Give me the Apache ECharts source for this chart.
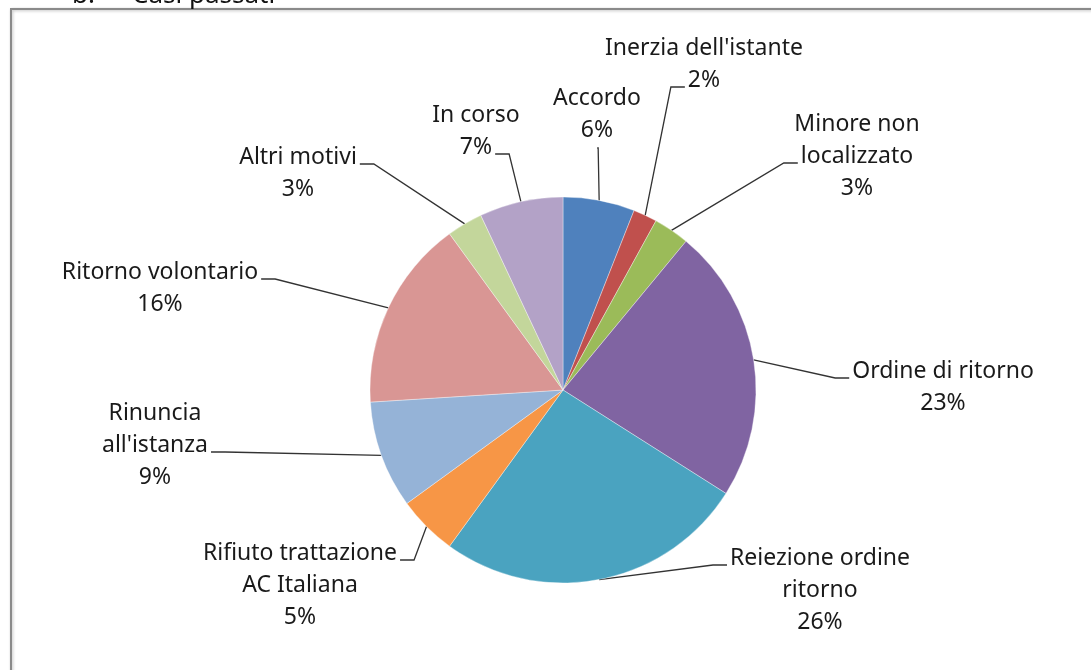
<!DOCTYPE html>
<html>
<head>
<meta charset="utf-8">
<script src="https://cdn.jsdelivr.net/npm/echarts@6/dist/echarts.min.js"></script>
<style>
html,body{margin:0;padding:0;background:#fff;}
#chart{width:1091px;height:670px;}
</style>
</head>
<body>
<div id="chart"></div>
<script>
// ---- data ----
const categories = ['Accordo', "Inerzia dell'istante", 'Minore non localizzato', 'Ordine di ritorno',
  'Reiezione ordine ritorno', 'Rifiuto trattazione AC Italiana', "Rinuncia all'istanza",
  'Ritorno volontario', 'Altri motivi', 'In corso'];
const values = [6, 2, 3, 23, 26, 5, 9, 16, 3, 7];
const labelText = ['Accordo', "Inerzia dell'istante", 'Minore non\nlocalizzato', 'Ordine di ritorno',
  'Reiezione ordine\nritorno', 'Rifiuto trattazione\nAC Italiana', "Rinuncia\nall'istanza",
  'Ritorno volontario', 'Altri motivi', 'In corso'];

// ---- style / layout ----
const colors = ['#4F81BD', '#C0504D', '#9BBB59', '#8064A2', '#4AA3C0', '#F79646',
  '#95B3D7', '#D99694', '#C3D69B', '#B3A2C7'];
const FONT_FAMILY = '"Noto Sans", "DejaVu Sans", sans-serif';
const FONT_SIZE = 23;
const LINE_H = 32;
// label block centre, line used for the leader, side of attachment
const labelBoxes = [
  [597, 114, 1, 'bottom'],
  [704, 64, 1, 'left'],
  [857, 156, 1, 'left'],
  [943, 387, 0, 'left'],
  [820, 590, 0, 'left'],
  [300, 585, 0, 'right'],
  [155, 445, 1, 'right'],
  [160, 288, 0, 'right'],
  [298, 173, 0, 'right'],
  [476, 131, 1, 'right']
];

const measureCtx = document.createElement('canvas').getContext('2d');
measureCtx.font = FONT_SIZE + 'px ' + FONT_FAMILY;

function fullLabel(i) {
  return labelText[i] + '\n' + values[i] + '%';
}

const chart = echarts.init(document.getElementById('chart'), null, {renderer: 'canvas'});
const total = values.reduce((a, b) => a + b, 0);

chart.setOption({
  animation: false,
  backgroundColor: '#ffffff',
  graphic: [
    {
      type: 'rect', z: -10, silent: true,
      shape: {x: 11, y: 9, width: 1200, height: 800},
      style: {fill: '#ffffff', stroke: '#8a8a8a', lineWidth: 2,
        shadowBlur: 3, shadowColor: 'rgba(0,0,0,0.25)', shadowOffsetX: 1, shadowOffsetY: 1}
    },
    {
      type: 'text', left: 72, top: -17, silent: true, z: 20,
      style: {text: 'b.', font: '26px ' + FONT_FAMILY, fill: '#111'}
    },
    {
      type: 'text', left: 132, top: -17, silent: true, z: 20,
      style: {text: 'Casi passati', font: '26px ' + FONT_FAMILY, fill: '#111'}
    }
  ],
  series: [{
    type: 'pie',
    center: [563, 390],
    radius: 193,
    startAngle: 90,
    clockwise: true,
    avoidLabelOverlap: false,
    minShowLabelAngle: 0,
    data: categories.map((c, i) => ({name: c, value: values[i], itemStyle: {color: colors[i]}})),
    itemStyle: {borderColor: 'rgba(255,255,255,0.6)', borderWidth: 0.6},
    emphasis: {disabled: true},
    label: {
      show: true,
      position: 'outer',
      alignTo: 'none',
      formatter: p => labelText[p.dataIndex] + '\n' + Math.round(p.value / total * 100) + '%',
      fontFamily: FONT_FAMILY,
      fontSize: FONT_SIZE,
      lineHeight: LINE_H,
      color: '#1a1a1a',
      align: 'center'
    },
    labelLine: {
      show: true, length: 10, length2: 10, smooth: false,
      lineStyle: {color: '#333333', width: 1.3}
    },
    labelLayout: function (params) {
      const i = params.dataIndex;
      const box = labelBoxes[i];
      const lines = fullLabel(i).split('\n');
      const n = lines.length;
      const cx = box[0], cy = box[1];
      const top = cy - n * LINE_H / 2;
      const arc = params.labelLinePoints ? params.labelLinePoints[0] : [cx, cy];
      let pts;
      if (box[3] === 'bottom') {
        const ay = top + n * LINE_H + 2;
        pts = [arc, [arc[0] - 1, ay], [arc[0] - 2, ay]];
      } else {
        const k = box[2];
        const w = measureCtx.measureText(lines[k]).width;
        const ay = top + LINE_H / 2 + LINE_H * k + 7;
        if (box[3] === 'right') {
          const ex = cx + w / 2 + 3;
          pts = [arc, [ex + 14, ay], [ex, ay]];
        } else {
          const ex = cx - w / 2 - 3;
          pts = [arc, [ex - 14, ay], [ex, ay]];
        }
      }
      return {x: cx, y: cy, align: 'center', verticalAlign: 'middle', labelLinePoints: pts};
    }
  }]
});
</script>
</body>
</html>
